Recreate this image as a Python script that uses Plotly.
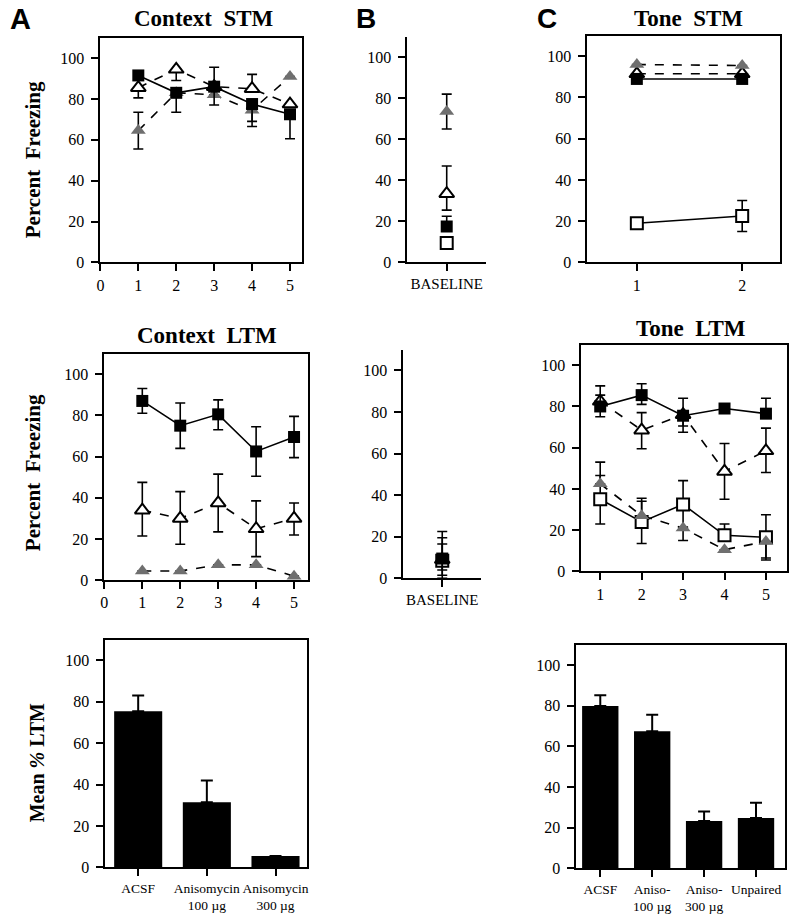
import plotly.graph_objects as go

W, H = 800, 924
SERIF = "Liberation Serif"
SANS = "Liberation Sans"

# ---------------- DATA ----------------
sessions = [1, 2, 3, 4, 5]

# Context STM (Percent freezing)
ctx_stm_acsf = [91.5, 83, 86, 77.5, 72.5]
ctx_stm_acsf_up = [0, 0, 9.5, 0, 0]
ctx_stm_acsf_dn = [0, 9.5, 9, 8.5, 12]
ctx_stm_a100 = [85.5, 94.5, 86, 85, 77.5]
ctx_stm_a100_up = [0, 0, 0, 7, 0]
ctx_stm_a100_dn = [5, 5.5, 0, 0, 0]
ctx_stm_a300 = [64.5, 83, 82, 74.5, 91]
ctx_stm_a300_up = [9, 0, 0, 0, 0]
ctx_stm_a300_dn = [9, 0, 0, 8, 0]

# Context LTM
ctx_ltm_acsf = [87, 75, 80.5, 62.5, 69.5]
ctx_ltm_acsf_up = [6, 11, 7, 12, 10]
ctx_ltm_acsf_dn = [6, 11, 7.5, 12, 10]
ctx_ltm_a100 = [34, 30, 37.5, 25, 30]
ctx_ltm_a100_up = [13.5, 13, 14, 13.5, 7.5]
ctx_ltm_a100_dn = [12.5, 12.5, 14, 13.5, 8]
ctx_ltm_a300 = [4.5, 4.5, 7.5, 7.5, 2]

# Baseline (B)
base_cat = [1]
base_stm_a300 = [73.5]
base_stm_a300_err = [8.5]
base_stm_a100 = [33.5]
base_stm_a100_up = [13.5]
base_stm_a100_dn = [8]
base_stm_acsf = [17.5]
base_stm_acsf_up = [5]
base_stm_unp = [9.5]

base_ltm_unp = [8.5]
base_ltm_unp_up = [8]
base_ltm_unp_dn = [7]
base_ltm_a100 = [9]
base_ltm_a100_up = [10.5]
base_ltm_a100_dn = [5]
base_ltm_acsf = [9.5]
base_ltm_acsf_up = [13]
base_ltm_acsf_dn = [9.5]

# Tone STM
tone_trials = [1, 2]
tone_stm_a300 = [96, 95.5]
tone_stm_a100 = [91.5, 91.5]
tone_stm_acsf = [89, 89]
tone_stm_unp = [19, 22.5]
tone_stm_unp_up = [0, 7.5]
tone_stm_unp_dn = [0, 7.5]

# Tone LTM
tone_ltm_acsf = [80, 85.5, 75.5, 79, 76.5]
tone_ltm_acsf_up = [10, 5.5, 8.5, 0, 7.5]
tone_ltm_acsf_dn = [5, 4.5, 8, 0, 0]
tone_ltm_a100 = [82.5, 68.5, 76, 48.5, 58.5]
tone_ltm_a100_up = [3, 8.5, 0, 13.5, 11]
tone_ltm_a100_dn = [0, 9, 5.5, 13.5, 10.5]
tone_ltm_a300 = [42.5, 27, 21, 10.5, 14.5]
tone_ltm_a300_up = [10.5, 8.5, 0, 0, 0]
tone_ltm_a300_dn = [0, 0, 6, 0, 9]
tone_ltm_unp = [35, 24, 32.5, 17.5, 16.5]
tone_ltm_unp_up = [11.5, 10, 11.5, 5.5, 11]
tone_ltm_unp_dn = [12, 10.5, 11, 0, 10]

# Mean % LTM bars
ctx_bar_cats = ["ACSF", "Anisomycin 100", "Anisomycin 300"]
ctx_bar_labels = ["ACSF", "Anisomycin<br>100 µg", "Anisomycin<br>300 µg"]
ctx_bar_vals = [75.5, 31.5, 5.5]
ctx_bar_err = [7.5, 10.5, 0]

tone_bar_cats = ["ACSF", "Aniso-100", "Aniso-300", "Unpaired"]
tone_bar_labels = ["ACSF", "Aniso-<br>100 µg", "Aniso-<br>300 µg", "Unpaired"]
tone_bar_vals = [79.8, 67.5, 23.3, 24.8]
tone_bar_err = [5.3, 8, 4.7, 7.5]

yticks = [0, 20, 40, 60, 80, 100]

# ---------------- HELPERS ----------------
def xdom(a, b):
    return [a / W, b / W]


def ydom(top, bot):
    return [1 - bot / H, 1 - top / H]


def axis(domain, rng, anchor, mirror=True, **kw):
    d = dict(domain=domain, range=rng, anchor=anchor, showline=True,
             linecolor="black", linewidth=2, mirror=mirror, ticks="outside",
             ticklen=7, tickwidth=2, tickcolor="black", showgrid=False,
             zeroline=False, fixedrange=True,
             tickfont=dict(family=SERIF, size=16, color="black"))
    d.update(kw)
    return d


def yaxis(domain, anchor, mirror=True):
    return axis(domain, [0, 110], anchor, mirror=mirror, tickvals=yticks,
                ticklabelstandoff=4)


GRAY = "#6f6f6f"
STY = {
    "acsf": dict(symbol="square", size=12, color="black", line=dict(color="black", width=0)),
    "a100": dict(symbol="triangle-up", size=13, color="white", line=dict(color="black", width=2)),
    "a300": dict(symbol="triangle-up", size=13, color=GRAY, line=dict(color=GRAY, width=0)),
    "unp": dict(symbol="square", size=12, color="white", line=dict(color="black", width=2)),
}
DASH = {"acsf": "solid", "a100": "dash", "a300": "dash", "unp": "solid"}

fig = go.Figure()


def series(x, y, kind, ax, up=None, dn=None, lines=True):
    n = len(y)
    up = up if up is not None else [0] * n
    dn = dn if dn is not None else [0] * n
    fig.add_trace(go.Scatter(
        x=x, y=y, xaxis="x" + ax, yaxis="y" + ax,
        mode="lines+markers" if lines else "markers",
        line=dict(color="black", width=1.6, dash=DASH[kind]),
        marker=STY[kind],
        error_y=dict(type="data", symmetric=False, array=up, arrayminus=dn,
                     color="black", thickness=1.6, width=5),
        cliponaxis=False, showlegend=False, hoverinfo="x+y"))


# Context STM (axis 1)
series(sessions, ctx_stm_a300, "a300", "1", ctx_stm_a300_up, ctx_stm_a300_dn)
series(sessions, ctx_stm_a100, "a100", "1", ctx_stm_a100_up, ctx_stm_a100_dn)
series(sessions, ctx_stm_acsf, "acsf", "1", ctx_stm_acsf_up, ctx_stm_acsf_dn)

# Baseline top (axis 2)
series(base_cat, base_stm_unp, "unp", "2", lines=False)
series(base_cat, base_stm_acsf, "acsf", "2", base_stm_acsf_up, [0], lines=False)
series(base_cat, base_stm_a100, "a100", "2", base_stm_a100_up, base_stm_a100_dn, lines=False)
series(base_cat, base_stm_a300, "a300", "2", base_stm_a300_err, base_stm_a300_err, lines=False)

# Tone STM (axis 3)
series(tone_trials, tone_stm_a100, "a100", "3")
series(tone_trials, tone_stm_acsf, "acsf", "3")
series(tone_trials, tone_stm_a300, "a300", "3")
series(tone_trials, tone_stm_unp, "unp", "3", tone_stm_unp_up, tone_stm_unp_dn)

# Context LTM (axis 4)
series(sessions, ctx_ltm_a300, "a300", "4")
series(sessions, ctx_ltm_a100, "a100", "4", ctx_ltm_a100_up, ctx_ltm_a100_dn)
series(sessions, ctx_ltm_acsf, "acsf", "4", ctx_ltm_acsf_up, ctx_ltm_acsf_dn)

# Baseline bottom (axis 5)
series(base_cat, base_ltm_unp, "unp", "5", base_ltm_unp_up, base_ltm_unp_dn, lines=False)
series(base_cat, base_ltm_a100, "a100", "5", base_ltm_a100_up, base_ltm_a100_dn, lines=False)
series(base_cat, base_ltm_acsf, "acsf", "5", base_ltm_acsf_up, base_ltm_acsf_dn, lines=False)

# Tone LTM (axis 6)
series(sessions, tone_ltm_unp, "unp", "6", tone_ltm_unp_up, tone_ltm_unp_dn)
series(sessions, tone_ltm_a300, "a300", "6", tone_ltm_a300_up, tone_ltm_a300_dn)
series(sessions, tone_ltm_a100, "a100", "6", tone_ltm_a100_up, tone_ltm_a100_dn)
series(sessions, tone_ltm_acsf, "acsf", "6", tone_ltm_acsf_up, tone_ltm_acsf_dn)

# Bars
fig.add_trace(go.Bar(x=ctx_bar_cats, y=ctx_bar_vals, xaxis="x7", yaxis="y7",
                     marker=dict(color="black", line=dict(width=0)), width=0.7,
                     error_y=dict(type="data", symmetric=False, array=ctx_bar_err,
                                  arrayminus=[0] * len(ctx_bar_err), color="black",
                                  thickness=2, width=6),
                     showlegend=False))
fig.add_trace(go.Bar(x=tone_bar_cats, y=tone_bar_vals, xaxis="x8", yaxis="y8",
                     marker=dict(color="black", line=dict(width=0)), width=0.7,
                     error_y=dict(type="data", symmetric=False, array=tone_bar_err,
                                  arrayminus=[0] * len(tone_bar_err), color="black",
                                  thickness=2, width=6),
                     showlegend=False))

BASEFONT = dict(family=SERIF, size=15, color="black")
CATFONT = dict(family=SERIF, size=13.5, color="black")
lay = dict(
    # 1 Context STM
    xaxis=axis(xdom(97, 300), [0, 5.32], "y", tickvals=[0, 1, 2, 3, 4, 5]),
    yaxis=yaxis(ydom(38, 265), "x"),
    # 2 Baseline top
    xaxis2=axis(xdom(406, 485), [0, 2], "y2", mirror=False, tickvals=base_cat,
                ticktext=["BASELINE"], tickfont=BASEFONT),
    yaxis2=yaxis(ydom(37, 265), "x2", mirror=False),
    # 3 Tone STM
    xaxis3=axis(xdom(587, 781), [0.53, 2.36], "y3", tickvals=tone_trials),
    yaxis3=yaxis(ydom(36, 265), "x3"),
    # 4 Context LTM
    xaxis4=axis(xdom(101, 306), [0, 5.37], "y4", tickvals=[0, 1, 2, 3, 4, 5]),
    yaxis4=yaxis(ydom(357, 586), "x4"),
    # 5 Baseline bottom
    xaxis5=axis(xdom(402, 480), [0, 2], "y5", mirror=False, tickvals=base_cat,
                ticktext=["BASELINE"], tickfont=BASEFONT),
    yaxis5=yaxis(ydom(353, 584), "x5", mirror=False),
    # 6 Tone LTM
    xaxis6=axis(xdom(581, 788), [0.545, 5.51], "y6", tickvals=sessions),
    yaxis6=yaxis(ydom(348, 577), "x6"),
    # 7 Context bars
    xaxis7=axis(xdom(102, 305), [-0.478, 2.46], "y7", type="category",
                tickvals=ctx_bar_cats, ticktext=ctx_bar_labels, tickfont=CATFONT),
    yaxis7=yaxis(ydom(646, 876), "x7"),
    # 8 Tone bars
    xaxis8=axis(xdom(576, 786), [-0.46, 3.56], "y8", type="category",
                tickvals=tone_bar_cats, ticktext=tone_bar_labels, tickfont=CATFONT),
    yaxis8=yaxis(ydom(651, 877), "x8"),
)


def ann(x, y, text, size, family=SERIF, angle=0):
    return dict(x=x / W, y=1 - y / H, xref="paper", yref="paper", text=text,
                showarrow=False, textangle=angle, xanchor="center", yanchor="middle",
                font=dict(family=family, size=size, color="black"))


annotations = [
    ann(17, 19, "<b>A</b>", 29, SANS),
    ann(364, 19, "<b>B</b>", 28, SANS),
    ann(546, 19, "<b>C</b>", 28, SANS),
    ann(201, 19, "<b>Context  STM</b>", 23),
    ann(689, 19, "<b>Tone  STM</b>", 23),
    ann(204, 339, "<b>Context  LTM</b>", 23),
    ann(691, 332, "<b>Tone  LTM</b>", 23),
    ann(30, 161, "<b>Percent  Freezing</b>", 21, angle=-90),
    ann(30, 477, "<b>Percent  Freezing</b>", 21, angle=-90),
    ann(33, 770, "<b>Mean <i>%</i> LTM</b>", 20, angle=-90),
]

fig.update_layout(
    width=W, height=H, margin=dict(l=0, r=0, t=0, b=0),
    paper_bgcolor="white", plot_bgcolor="white",
    showlegend=False, bargap=0.3, annotations=annotations, **lay)

fig.write_html("out.html", config={"displayModeBar": False},
               post_script="document.body.style.margin='0px';document.body.style.padding='0px';")
